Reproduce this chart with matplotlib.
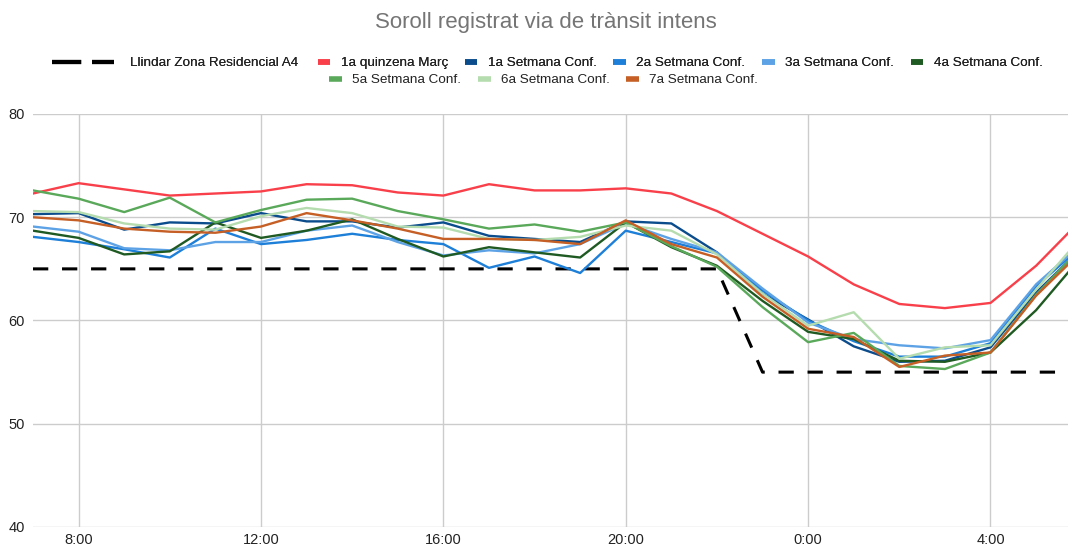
import matplotlib
matplotlib.use("Agg")
import matplotlib.pyplot as plt
from matplotlib.lines import Line2D

plt.rcParams['font.family'] = ['Liberation Sans', 'DejaVu Sans']

hours = ["7:00", "8:00", "9:00", "10:00", "11:00", "12:00", "13:00", "14:00",
         "15:00", "16:00", "17:00", "18:00", "19:00", "20:00", "21:00", "22:00",
         "23:00", "0:00", "1:00", "2:00", "3:00", "4:00", "5:00", "6:00"]
tick_labels = ["8:00", "12:00", "16:00", "20:00", "0:00", "4:00"]

threshold = [65, 65, 65, 65, 65, 65, 65, 65, 65, 65, 65, 65, 65, 65, 65, 65,
             55, 55, 55, 55, 55, 55, 55, 55]
quinzena_marc = [72.3, 73.3, 72.7, 72.1, 72.3, 72.5, 73.2, 73.1, 72.4, 72.1, 73.2, 72.6,
                 72.6, 72.8, 72.3, 70.6, 68.4, 66.2, 63.5, 61.6, 61.2, 61.7, 65.3, 69.8]
setmana1 = [70.3, 70.4, 68.8, 69.5, 69.4, 70.4, 69.6, 69.6, 69.0, 69.5, 68.2, 67.9,
            67.6, 69.6, 69.4, 66.6, 62.6, 60.1, 57.5, 56.0, 56.1, 57.4, 62.7, 67.0]
setmana2 = [68.1, 67.6, 66.9, 66.1, 68.9, 67.4, 67.8, 68.4, 67.8, 67.4, 65.1, 66.2,
            64.6, 68.7, 67.6, 66.5, 62.9, 60.0, 58.0, 56.5, 56.5, 57.8, 63.3, 67.2]
setmana3 = [69.1, 68.6, 67.0, 66.8, 67.6, 67.6, 68.7, 69.2, 67.6, 66.3, 66.8, 66.5,
            67.4, 69.4, 67.9, 66.6, 63.1, 59.8, 58.2, 57.6, 57.3, 58.1, 63.5, 67.4]
setmana4 = [68.7, 68.0, 66.4, 66.7, 69.5, 68.0, 68.7, 69.8, 67.9, 66.2, 67.1, 66.6,
            66.1, 69.5, 67.1, 65.3, 61.9, 58.9, 58.2, 56.1, 56.0, 56.9, 61.0, 66.2]
setmana5 = [72.6, 71.8, 70.5, 71.9, 69.5, 70.7, 71.7, 71.8, 70.6, 69.8, 68.9, 69.3,
            68.6, 69.5, 67.2, 65.2, 61.3, 57.9, 58.8, 55.6, 55.3, 56.9, 62.5, 67.1]
setmana6 = [70.6, 70.5, 69.4, 68.9, 68.8, 70.1, 70.9, 70.4, 69.1, 69.0, 67.9, 67.8,
            68.1, 69.2, 68.7, 66.4, 62.6, 59.5, 60.8, 56.3, 57.4, 57.6, 63.0, 68.1]
setmana7 = [70.0, 69.7, 68.9, 68.6, 68.5, 69.1, 70.4, 69.7, 68.9, 67.9, 67.9, 67.8,
            67.4, 69.7, 67.4, 66.1, 62.3, 59.2, 58.4, 55.5, 56.6, 56.9, 62.4, 66.7]

names = ["1a quinzena Març", "1a Setmana Conf.", "2a Setmana Conf.", "3a Setmana Conf.",
         "4a Setmana Conf.", "5a Setmana Conf.", "6a Setmana Conf.", "7a Setmana Conf."]
series = [quinzena_marc, setmana1, setmana2, setmana3, setmana4, setmana5, setmana6, setmana7]
colors = ["#f9404a", "#0b4c8c", "#1d7fd8", "#5ea2e6", "#1f5a22", "#5aa85a", "#b5dcae", "#c55f25"]

fig = plt.figure(figsize=(10.7, 5.45), dpi=100)
ax = fig.add_axes([33 / 1070, 18 / 545, 1035 / 1070, 413 / 545])

x = list(range(len(hours)))
ax.plot(x, threshold, color="black", lw=2.2, linestyle=(0, (5, 4.5)), zorder=2)
for vals, c in zip(series, colors):
    ax.plot(x, vals, color=c, lw=1.7, zorder=3)

ax.set_xlim(0, 22.7)
ax.set_ylim(40, 80)
ax.set_yticks([40, 50, 60, 70, 80])
ax.set_xticks([hours.index(t) for t in tick_labels])
ax.set_xticklabels(tick_labels)
ax.grid(True, color="#cccccc", lw=1)
ax.set_axisbelow(True)
for s in ax.spines.values():
    s.set_visible(False)
ax.tick_params(length=0, labelsize=10.5, colors="#222222", pad=4)
ax.tick_params(axis='y', pad=6)

fig.text(0.510, 0.958, "Soroll registrat via de trànsit intens", ha="center", va="center",
         fontsize=16, color="#757575")

# Legends
fs = 9.7
h_thr = Line2D([], [], color="black", lw=3, linestyle=(0, (7, 2.6)))
leg_a = fig.legend([h_thr], ["Llindar Zona Residencial A4"], loc="center left",
                   bbox_to_anchor=(49 / 1070, 1 - 63 / 545), frameon=False, fontsize=fs,
                   handlelength=4.6, handletextpad=1.2, borderaxespad=0, borderpad=0.2,
                   labelcolor="#222222")
fig.add_artist(leg_a)
hs = [Line2D([], [], color=c, lw=4, solid_capstyle="butt") for c in colors]
leg_b = fig.legend(hs[:5], names[:5], loc="center left",
                   bbox_to_anchor=(315 / 1070, 1 - 63 / 545), frameon=False, fontsize=fs,
                   ncol=5, handlelength=0.95, handletextpad=0.75, columnspacing=1.25,
                   borderaxespad=0, borderpad=0.2, labelcolor="#222222")
fig.add_artist(leg_b)
leg_c = fig.legend(hs[5:], names[5:], loc="center",
                   bbox_to_anchor=(0.508, 1 - 80 / 545), frameon=False, fontsize=fs,
                   ncol=3, handlelength=0.95, handletextpad=0.75, columnspacing=1.25,
                   borderaxespad=0, borderpad=0.2, labelcolor="#222222")

fig.savefig("out.png", dpi=100)
